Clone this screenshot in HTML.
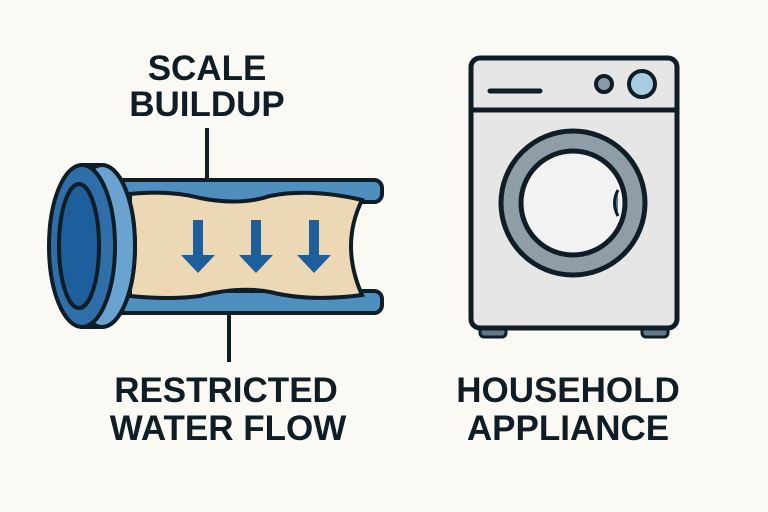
<!DOCTYPE html>
<html><head><style>
body{margin:0;background:#fbf9f3;}
svg{display:block}
text{font-family:"Liberation Sans",sans-serif;font-weight:bold;fill:#0f1d26;text-anchor:middle;font-size:35px}
</style></head><body>
<svg width="768" height="512" viewBox="0 0 768 512">
<rect width="768" height="512" fill="#fbf9f3"/>
<text x="207" y="80">SCALE</text>
<text x="207" y="116">BUILDUP</text>
<text x="226" y="402">RESTRICTED</text>
<text x="228" y="440">WATER FLOW</text>
<text x="568" y="402">HOUSEHOLD</text>
<text x="568" y="440">APPLIANCE</text>
<line x1="207" y1="128" x2="207" y2="193" stroke="#0f1d26" stroke-width="4"/>
<line x1="229" y1="300" x2="229" y2="362" stroke="#0f1d26" stroke-width="4"/>
<rect x="110" y="180" width="272" height="22" rx="8" fill="#4f8fc0" stroke="#0f1d26" stroke-width="4"/>
<rect x="110" y="291" width="272" height="22" rx="8" fill="#4f8fc0" stroke="#0f1d26" stroke-width="4"/>
<path d="M130 194 Q170 190 200 198 Q240 206 270 196 Q310 188 362 200 Q340 245 362 295 Q310 302 270 292 Q240 286 200 296 Q170 300 130 296 Z" fill="#ecd8b4" stroke="#0f1d26" stroke-width="4"/>
<g fill="#1d5e9c">
<rect x="193" y="220" width="10" height="38"/><polygon points="181,255 215,255 198,273"/>
<rect x="251" y="220" width="10" height="38"/><polygon points="239,255 273,255 256,273"/>
<rect x="309" y="220" width="10" height="38"/><polygon points="297,255 331,255 314,273"/>
</g>
<path d="M82 165 L102 165 A33 81 0 0 1 102 327 L82 327 Z" fill="#6aa3cf" stroke="#0f1d26" stroke-width="4"/>
<ellipse cx="102" cy="246" rx="33" ry="81" fill="#6aa3cf" stroke="#0f1d26" stroke-width="4"/>
<ellipse cx="82" cy="246" rx="33" ry="81" fill="#2f6ea8" stroke="#0f1d26" stroke-width="4"/>
<ellipse cx="79" cy="246" rx="20" ry="62" fill="#1d5e9c" stroke="#0f1d26" stroke-width="4"/>
<rect x="480" y="322" width="26" height="15" rx="4" fill="#5f7a8c" stroke="#0f1d26" stroke-width="3"/>
<rect x="642" y="322" width="26" height="15" rx="4" fill="#5f7a8c" stroke="#0f1d26" stroke-width="3"/>
<rect x="471" y="58" width="206" height="270" rx="9" fill="#e6e6e6" stroke="#0f1d26" stroke-width="5"/>
<line x1="471" y1="110" x2="677" y2="110" stroke="#0f1d26" stroke-width="5"/>
<line x1="490" y1="91" x2="540" y2="91" stroke="#0f1d26" stroke-width="5" stroke-linecap="round"/>
<circle cx="604" cy="84" r="8" fill="#8a9aa4" stroke="#0f1d26" stroke-width="4"/>
<circle cx="642" cy="84" r="13" fill="#a9cbe0" stroke="#0f1d26" stroke-width="4"/>
<circle cx="573" cy="203" r="72" fill="#8f9ea6" stroke="#0f1d26" stroke-width="5"/>
<circle cx="573" cy="203" r="52" fill="#f2f2f2" stroke="#0f1d26" stroke-width="5"/>
<path d="M618 190 Q611 203 618 216" fill="#4f7f9f" stroke="#0f1d26" stroke-width="3"/>
</svg>
</body></html>
